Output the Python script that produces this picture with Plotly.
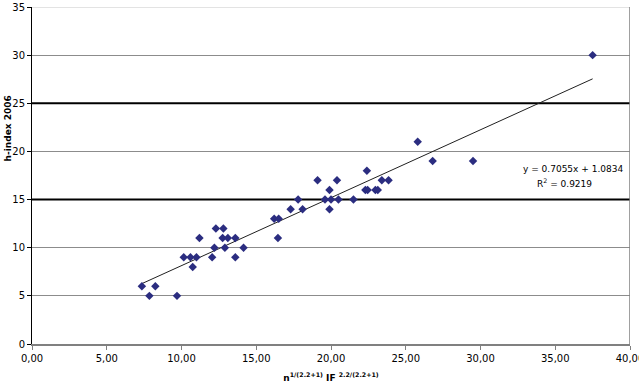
import plotly.graph_objects as go

# Data
x_vals = [7.35, 7.85, 8.25, 9.7, 10.15, 10.6, 10.75, 11.0, 11.2, 12.05, 12.2, 12.3,
          12.8, 12.75, 13.1, 12.9, 13.6, 13.6, 14.15, 16.2, 16.5, 16.45, 17.3, 17.8,
          18.1, 19.1, 19.6, 19.9, 20.0, 19.9, 20.4, 20.5, 21.5, 22.4, 22.3, 22.45,
          22.97, 23.13, 23.4, 23.85, 25.8, 26.8, 29.5, 37.5]
h_index = [6, 5, 6, 5, 9, 9, 8, 9, 11, 9, 10, 12,
           12, 11, 11, 10, 11, 9, 10, 13, 13, 11, 14, 15,
           14, 17, 15, 16, 15, 14, 17, 15, 15, 18, 16, 16,
           16, 16, 17, 17, 21, 19, 19, 30]

slope = 0.7055
intercept = 1.0834
r_squared = 0.9219

x_range = [0, 40]
y_range = [0, 35]
dark_grid = [15, 25]

trend_x = [min(x_vals), max(x_vals)]
trend_y = [slope * v + intercept for v in trend_x]

FF = "DejaVu Sans, Verdana, sans-serif"

fig = go.Figure()
fig.add_trace(go.Scatter(x=trend_x, y=trend_y, mode="lines",
                         line=dict(color="#202020", width=1), hoverinfo="skip"))
fig.add_trace(go.Scatter(x=x_vals, y=h_index, mode="markers",
                         marker=dict(symbol="diamond", size=6.5, color="#2b2d80",
                                     line=dict(width=0))))

for g in dark_grid:
    fig.add_shape(type="line", xref="x", yref="y", x0=x_range[0], x1=x_range[1],
                  y0=g, y1=g, line=dict(color="#000000", width=2), layer="between")
fig.add_shape(type="line", xref="x", yref="y", x0=x_range[0], x1=x_range[1],
              y0=y_range[1], y1=y_range[1], line=dict(color="#c8c8c8", width=1), layer="between")
fig.add_shape(type="line", xref="x", yref="y", x0=x_range[1], x1=x_range[1],
              y0=y_range[0], y1=y_range[1], line=dict(color="#808080", width=1.5), layer="between")

fig.add_annotation(text=f"y = {slope}x + {intercept}", xref="paper", yref="paper",
                   x=0.905, y=0.52, xanchor="center", yanchor="middle", showarrow=False,
                   font=dict(family=FF, size=9, color="#000"))
fig.add_annotation(text=f"R<sup>2</sup> = {r_squared}", xref="paper", yref="paper",
                   x=0.89, y=0.478, xanchor="center", yanchor="middle", showarrow=False,
                   font=dict(family=FF, size=9, color="#000"))
fig.add_annotation(text="<b>h-index 2006</b>", xref="paper", yref="paper",
                   x=-0.04, y=0.64, textangle=-90, xanchor="center", yanchor="middle",
                   showarrow=False, font=dict(family=FF, size=9, color="#000"))

fig.update_layout(
    width=639, height=389,
    margin=dict(l=32, r=9, t=7, b=45, autoexpand=False),
    paper_bgcolor="white", plot_bgcolor="white",
    showlegend=False,
    separators=", ",
    font=dict(family=FF, size=10, color="#000"),
)
fig.update_xaxes(range=x_range, dtick=5, tick0=0, tickformat=".2f",
                 showgrid=False, zeroline=False, automargin=False,
                 showline=True, linecolor="#808080", linewidth=1.5,
                 ticks="outside", ticklen=4, tickcolor="#808080",
                 ticklabeloverflow="allow",
                 tickfont=dict(family=FF, size=10, color="#000"),
                 title=dict(text="<b>n<sup>1/(2.2+1)</sup> IF <sup>2.2/(2.2+1)</sup></b>",
                            font=dict(family=FF, size=9, color="#000"),
                            standoff=12))
fig.update_yaxes(range=y_range, dtick=5, tick0=0, automargin=False,
                 showgrid=True, gridcolor="#8c8c8c", gridwidth=1, zeroline=False,
                 showline=True, linecolor="#000000", linewidth=1,
                 ticks="outside", ticklen=4, tickcolor="#000000",
                 tickfont=dict(family=FF, size=10, color="#000"))

fig.write_html("out.html")
